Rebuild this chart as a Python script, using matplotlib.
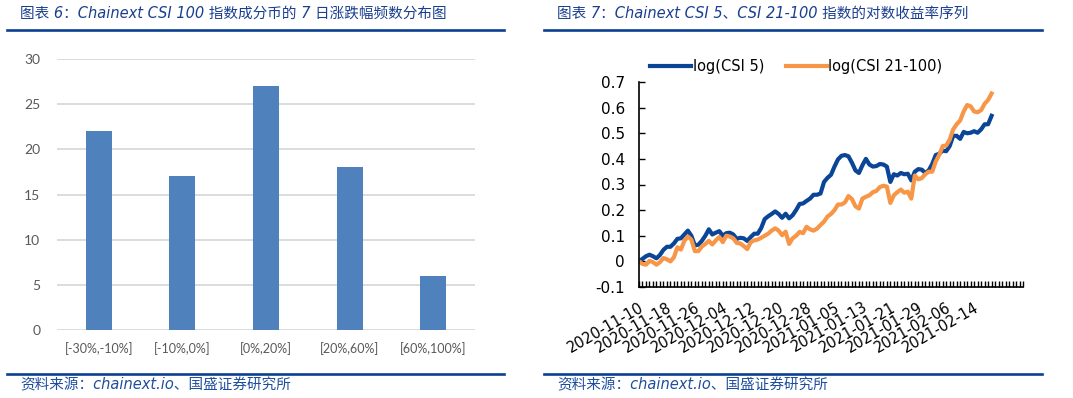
import numpy as np
import matplotlib
matplotlib.use('Agg')
import matplotlib.pyplot as plt
from matplotlib.ticker import MultipleLocator, FormatStrFormatter

# Left chart data: 7-day return buckets
buckets = ['[-30%,-10%]', '[-10%,0%]', '[0%,20%]', '[20%,60%]', '[60%,100%]']
counts = [22, 17, 27, 18, 6]

# Right chart data: daily log return series
csi5 = [0.0, 0.01, 0.02, 0.026, 0.02, 0.012, 0.025, 0.045, 0.057, 0.057,
        0.07, 0.088, 0.09, 0.105, 0.12, 0.1, 0.062, 0.065, 0.08, 0.1,
        0.125, 0.105, 0.112, 0.118, 0.1, 0.11, 0.112, 0.105, 0.088, 0.092,
        0.09, 0.08, 0.095, 0.108, 0.108, 0.13, 0.165, 0.176, 0.185, 0.195,
        0.185, 0.17, 0.186, 0.168, 0.18, 0.2, 0.224, 0.226, 0.236, 0.245,
        0.26, 0.26, 0.265, 0.31, 0.326, 0.338, 0.37, 0.398, 0.412, 0.415,
        0.41, 0.385, 0.355, 0.345, 0.375, 0.4, 0.378, 0.37, 0.372, 0.38,
        0.378, 0.37, 0.31, 0.34, 0.335, 0.345, 0.34, 0.342, 0.316, 0.35,
        0.36, 0.358, 0.345, 0.355, 0.38, 0.415, 0.42, 0.432, 0.43, 0.45,
        0.49, 0.49, 0.478, 0.505, 0.5, 0.502, 0.508, 0.502, 0.515, 0.535,
        0.535, 0.568]
csi21_100 = [0.0, -0.01, -0.013, 0.002, -0.003, -0.013, -0.003, 0.013, 0.008, 0.0,
             0.016, 0.055, 0.046, 0.08, 0.097, 0.085, 0.04, 0.04, 0.058, 0.068,
             0.08, 0.066, 0.082, 0.095, 0.075, 0.1, 0.097, 0.09, 0.072, 0.07,
             0.06, 0.048, 0.075, 0.082, 0.085, 0.092, 0.1, 0.108, 0.12, 0.129,
             0.12, 0.102, 0.116, 0.068, 0.09, 0.1, 0.115, 0.11, 0.135, 0.125,
             0.12, 0.128, 0.142, 0.155, 0.175, 0.185, 0.2, 0.222, 0.222, 0.23,
             0.255, 0.243, 0.215, 0.206, 0.245, 0.252, 0.258, 0.27, 0.275, 0.29,
             0.295, 0.292, 0.228, 0.258, 0.27, 0.28, 0.268, 0.272, 0.245, 0.335,
             0.32, 0.325, 0.34, 0.35, 0.35, 0.39, 0.415, 0.45, 0.452, 0.475,
             0.515, 0.535, 0.55, 0.585, 0.61, 0.605, 0.585, 0.582, 0.59, 0.615,
             0.63, 0.655]
date_labels = ['2020-11-10', '2020-11-18', '2020-11-26', '2020-12-04', '2020-12-12',
               '2020-12-20', '2020-12-28', '2021-01-05', '2021-01-13', '2021-01-21',
               '2021-01-29', '2021-02-06', '2021-02-14']
label_step = 8
n_slots = 110

W, H = 1073, 398
cjk = ['DejaVu Sans', 'Noto Sans CJK SC']
navy = '#0B3F91'
title_color = '#1A3F8F'

fig = plt.figure(figsize=(W / 100, H / 100), dpi=100)

def frac(x0, y0, x1, y1):
    # pixel box (top-left origin) -> figure fraction rect
    return [x0 / W, 1 - y1 / H, (x1 - x0) / W, (y1 - y0) / H]

# Header/footer rules and captions
for (xa, xb) in [(7, 504), (544, 1042)]:
    fig.add_artist(plt.Line2D([xa / W, xb / W], [1 - 30 / H] * 2, color=navy, lw=1.9))
    fig.add_artist(plt.Line2D([xa / W, xb / W], [1 - 374 / H] * 2, color=navy, lw=1.9))

fig.text(20 / W, 1 - 13 / H, '图表 6：Chainext CSI 100 指数成分币的 7 日涨跌幅频数分布图',
         family=cjk, style='italic', fontsize=10.5, color=title_color, va='center')
fig.text(557 / W, 1 - 13 / H, '图表 7：Chainext CSI 5、CSI 21-100 指数的对数收益率序列',
         family=cjk, style='italic', fontsize=10.5, color=title_color, va='center')
for xs in [20, 557]:
    fig.text(xs / W, 1 - 385 / H, '资料来源：chainext.io、国盛证券研究所',
             family=cjk, style='italic', fontsize=10.5, color='#1F4E9E', va='center')

# Left: bar chart
ax1 = fig.add_axes(frac(57, 59, 475, 330))
x = np.arange(len(buckets))
ax1.bar(x, counts, width=0.31, color='#4F81BD', zorder=3)
ax1.set_xlim(-0.5, len(buckets) - 0.5)
ax1.set_ylim(0, 30)
ax1.set_yticks(np.arange(0, 31, 5))
ax1.grid(axis='y', color='#D9D9D9', lw=1.3, zorder=0)
for s in ax1.spines.values():
    s.set_visible(False)
ax1.set_xticks(x)
ax1.set_xticklabels(buckets)
ax1.tick_params(axis='both', length=0, colors='#595959', labelsize=10)
ax1.tick_params(axis='x', pad=9, labelsize=9)
ax1.tick_params(axis='y', pad=12)
for lab in ax1.get_xticklabels() + ax1.get_yticklabels():
    lab.set_family('Lato')

# Right: line chart
ax2 = fig.add_axes(frac(639, 82, 1023, 287))
idx = np.arange(len(csi5))
ax2.plot(idx, csi5, color='#0B4597', lw=3, label='log(CSI 5)', solid_joinstyle='round')
ax2.plot(idx, csi21_100, color='#F79646', lw=3, label='log(CSI 21-100)', solid_joinstyle='round')
ax2.set_xlim(0, n_slots)
ax2.set_ylim(-0.1, 0.7)
ax2.set_yticks(np.round(np.arange(-0.1, 0.71, 0.1), 1))
ax2.yaxis.set_major_formatter(FormatStrFormatter('%g'))
ax2.set_xticks(np.arange(len(date_labels)) * label_step)
ax2.set_xticklabels(date_labels, rotation=30, ha='right', va='top', rotation_mode='anchor')
ax2.xaxis.set_minor_locator(MultipleLocator(1))
ax2.spines['top'].set_visible(False)
ax2.spines['right'].set_visible(False)
ax2.spines['left'].set_linewidth(1.2)
ax2.spines['bottom'].set_linewidth(1.2)
ax2.tick_params(axis='both', which='both', direction='in', length=4, width=1, colors='black')
ax2.tick_params(axis='y', labelsize=11, pad=10)
ax2.tick_params(axis='x', labelsize=10.5, pad=9)
ax2.legend(loc='center', bbox_to_anchor=(0.41, 1.075), ncol=2, frameon=False,
           fontsize=10.5, handlelength=2.8, handletextpad=0.1, columnspacing=1.5)

fig.savefig('out.png', dpi=100)
